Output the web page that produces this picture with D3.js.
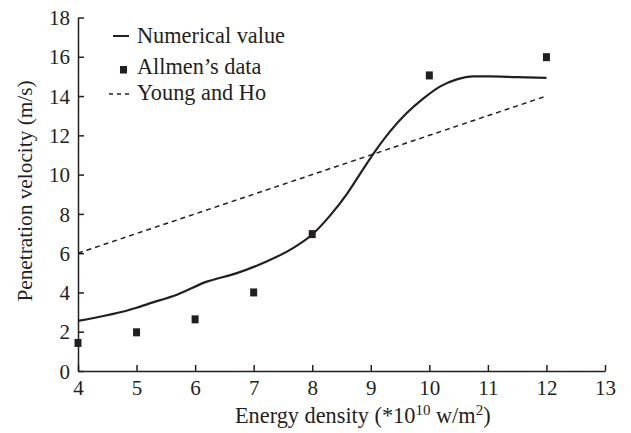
<!DOCTYPE html>
<html><head><meta charset="utf-8">
<script src="https://cdn.jsdelivr.net/npm/d3@7"></script>
<style>body{margin:0;background:#fff}svg{display:block}text{font-family:"Liberation Serif","Times New Roman",serif;fill:#231f20}</style>
</head><body><svg id="c" width="631" height="433"></svg>
<script>
const xTicks = [4,5,6,7,8,9,10,11,12,13];
const yTicks = [0,2,4,6,8,10,12,14,16,18];
const numX = [4, 5, 5.2, 5.7, 6.2, 6.7, 7.2, 7.65, 8, 8.3, 8.6, 8.82, 9.07, 9.33, 9.61, 9.9, 10.18, 10.47, 10.75, 11.04, 11.5, 12];
const numY = [2.55, 3.22, 3.42, 3.9, 4.55, 4.97, 5.55, 6.22, 6.95, 7.9, 9.05, 10.05, 11.17, 12.2, 13.12, 13.88, 14.48, 14.85, 15.0, 15.0, 14.96, 14.93];
const allmenX = [4, 5, 6, 7, 8, 10, 12];
const allmenY = [1.43, 1.97, 2.63, 4.0, 6.97, 15.05, 15.98];
const youngX = [4, 12];
const youngY = [6, 14];
const legendLabels = ["Numerical value", "Allmen\u2019s data", "Young and Ho"];

const ink = "#231f20";
const svg = d3.select("#c");
const x = d3.scaleLinear().domain([4,13]).range([78,605]);
const y = d3.scaleLinear().domain([0,18]).range([371,17.5]);

const gx = svg.append("g").attr("transform","translate(0,371)")
  .call(d3.axisBottom(x).tickValues(xTicks).tickSizeInner(-6).tickSizeOuter(0).tickPadding(14).tickFormat(d3.format("d")));
const gy = svg.append("g").attr("transform","translate(78,0)")
  .call(d3.axisLeft(y).tickValues(yTicks).tickSizeInner(-6).tickSizeOuter(0).tickPadding(14).tickFormat(d3.format("d")));
[gx,gy].forEach(g=>{
  g.select(".domain").attr("stroke",ink).attr("stroke-width",1.5);
  g.selectAll(".tick line").attr("stroke",ink).attr("stroke-width",1.5);
  g.selectAll(".tick text").attr("font-size",21).attr("font-family","Liberation Serif").attr("fill",ink);
});
gy.selectAll(".tick text").attr("x",-8).attr("dy","0.34em");
gx.selectAll(".tick text").attr("dy","0.71em").attr("y",9);

svg.append("path").datum(youngX.map((d,i)=>[d,youngY[i]]))
  .attr("d", d3.line().x(d=>x(d[0])).y(d=>y(d[1])))
  .attr("fill","none").attr("stroke",ink).attr("stroke-width",1.5).attr("stroke-dasharray","5,4");

svg.append("path").datum(numX.map((d,i)=>[d,numY[i]]))
  .attr("d", d3.line().x(d=>x(d[0])).y(d=>y(d[1])).curve(d3.curveMonotoneX))
  .attr("fill","none").attr("stroke",ink).attr("stroke-width",2.2);

svg.append("g").selectAll("rect").data(allmenX.map((d,i)=>[d,allmenY[i]])).join("rect")
  .attr("x",d=>x(d[0])-3.5).attr("y",d=>y(d[1])-4).attr("width",7).attr("height",8).attr("fill",ink);

const lg = svg.append("g");
lg.append("line").attr("x1",113).attr("x2",129).attr("y1",36).attr("y2",36).attr("stroke",ink).attr("stroke-width",2);
lg.append("rect").attr("x",120).attr("y",66).attr("width",7).attr("height",7.5).attr("fill",ink);
lg.append("line").attr("x1",109).attr("x2",132).attr("y1",94).attr("y2",94).attr("stroke",ink).attr("stroke-width",1.3).attr("stroke-dasharray","4,4");
legendLabels.forEach((t,i)=>{
  lg.append("text").attr("x",137).attr("y",[43,73.5,100][i]).attr("font-size",22.3).text(t);
});

const xt = svg.append("text").attr("x",235).attr("y",423).attr("font-size",22.3);
xt.append("tspan").text("Energy density (*10");
xt.append("tspan").attr("font-size",15).attr("dy",-8).text("10");
xt.append("tspan").attr("dy",8).text(" w/m");
xt.append("tspan").attr("font-size",15).attr("dy",-8).text("2");
xt.append("tspan").attr("dy",8).text(")");

svg.append("text").attr("transform","translate(32,191) rotate(-90)").attr("text-anchor","middle").attr("font-size",21.3)
  .text("Penetration velocity (m/s)");
</script></body></html>
